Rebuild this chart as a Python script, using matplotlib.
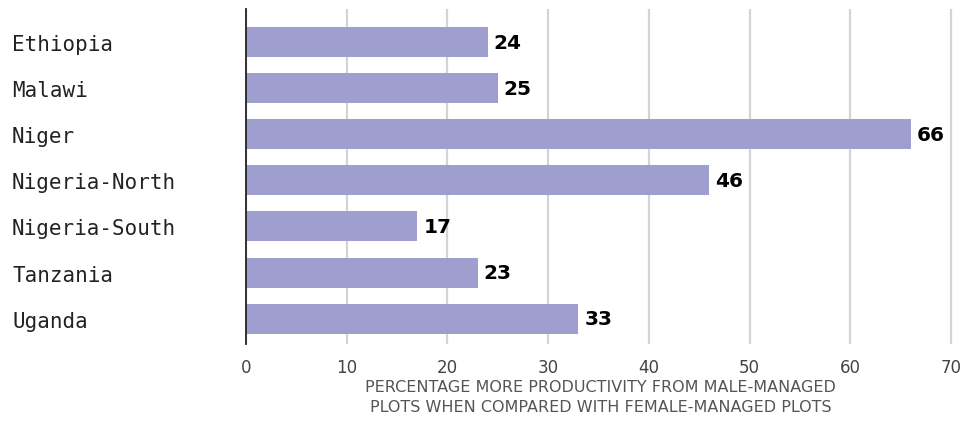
import matplotlib.pyplot as plt

countries = ["Ethiopia", "Malawi", "Niger", "Nigeria-North", "Nigeria-South", "Tanzania", "Uganda"]
gaps = [24, 25, 66, 46, 17, 23, 33]
xticks = [0, 10, 20, 30, 40, 50, 60, 70]

fig = plt.figure(figsize=(9.66, 4.27), dpi=100)
ax = fig.add_axes([0.2547, 0.192, 0.734, 0.785])

pos = list(range(len(countries)))
ax.barh(pos, gaps, height=0.65, color="#9e9fcf", zorder=2)

for p, v in zip(pos, gaps):
    ax.text(v + 0.6, p, str(v), va="center", ha="left", fontsize=14.5,
            fontweight="bold", color="black", family="DejaVu Sans")

ax.set_xlim(0, 70.4)
ax.set_ylim(6.55, -0.72)
ax.set_xticks(xticks)
ax.set_xticklabels([str(t) for t in xticks], fontsize=12, color="#444444", family="DejaVu Sans")
ax.grid(axis="x", color="#d4d4d4", linewidth=1.6, zorder=0)
ax.tick_params(axis="x", length=0, pad=10)

ax.set_yticks(pos)
ax.set_yticklabels(countries, fontsize=15, family="DejaVu Sans Mono", color="#222222", ha="left")
# pad is in points: 234 px from the spine at 100 dpi
ax.tick_params(axis="y", length=0, pad=168.5)

for s in ["top", "right", "bottom"]:
    ax.spines[s].set_visible(False)
ax.spines["left"].set_color("#222222")
ax.spines["left"].set_linewidth(1.3)

ax.set_xlabel("PERCENTAGE MORE PRODUCTIVITY FROM MALE-MANAGED\nPLOTS WHEN COMPARED WITH FEMALE-MANAGED PLOTS",
              fontsize=11.5, color="#555555", family="DejaVu Sans", labelpad=2, linespacing=1.45)

fig.savefig("out.png", dpi=100)
